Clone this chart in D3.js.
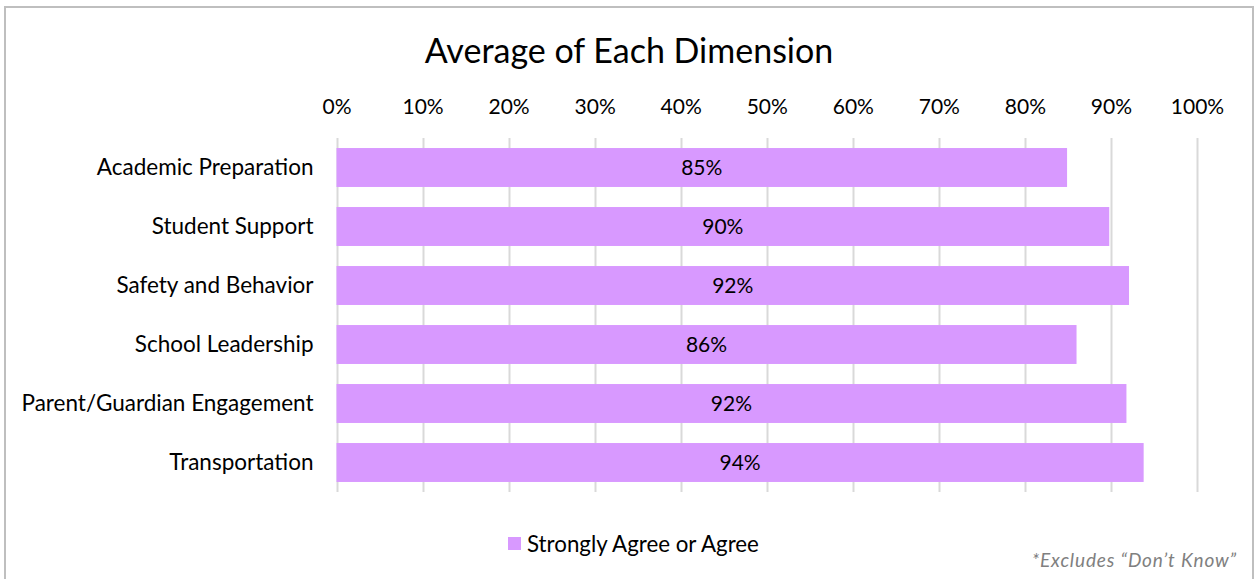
<!DOCTYPE html>
<html>
<head>
<meta charset="utf-8">
<script src="https://cdn.jsdelivr.net/npm/d3@7"></script>
<style>
  html, body { margin: 0; padding: 0; background: #fff; }
  svg { display: block; font-family: Lato, "Open Sans", sans-serif; }
</style>
</head>
<body>
<svg id="chart" width="1259" height="579"></svg>
<script>
const categories = ["Academic Preparation", "Student Support", "Safety and Behavior", "School Leadership", "Parent/Guardian Engagement", "Transportation"];
const values = [0.849, 0.898, 0.921, 0.860, 0.918, 0.938];
const valueLabels = ["85%", "90%", "92%", "86%", "92%", "94%"];
const tickValues = [0, 0.1, 0.2, 0.3, 0.4, 0.5, 0.6, 0.7, 0.8, 0.9, 1.0];
const seriesName = "Strongly Agree or Agree";
const title = "Average of Each Dimension";
const footnote = "*Excludes \u201CDon\u2019t Know\u201D";

const svg = d3.select("#chart");
const W = 1259, H = 579;
const barColor = "#D899FF";

// frame
svg.append("path")
  .attr("d", `M5,${H+2} V7 H1253 V${H+2}`)
  .attr("fill", "none").attr("stroke", "#BFBFBF").attr("stroke-width", 2);

const x = d3.scaleLinear().domain([0, 1]).range([336.5, 1197]);
const y = d3.scaleBand().domain(categories).range([138, 492]).paddingInner(0.34).paddingOuter(0.17);

// title
svg.append("text").attr("x", 629).attr("y", 63).attr("text-anchor", "middle")
  .attr("font-size", 34).attr("fill", "#000").text(title);

// gridlines
svg.append("g").selectAll("line").data(tickValues).join("line")
  .attr("x1", d => Math.round(x(d)) + 0.5).attr("x2", d => Math.round(x(d)) + 0.5)
  .attr("y1", 138).attr("y2", 492)
  .attr("stroke", "#D9D9D9").attr("stroke-width", 2);

// top axis
const axis = d3.axisTop(x).tickValues(tickValues).tickFormat(d3.format(".0%")).tickSize(0).tickPadding(0);
const ga = svg.append("g").attr("transform", "translate(0,114)").call(axis);
ga.select(".domain").remove();
ga.selectAll("text").attr("font-size", 21).attr("fill", "#000").attr("font-family", "Lato, sans-serif");

// category axis
const ay = d3.axisLeft(y).tickSize(0).tickPadding(23);
const gy = svg.append("g").attr("transform", "translate(336.5,0)").call(ay);
gy.select(".domain").remove();
gy.selectAll("text").attr("font-size", 22.5).attr("fill", "#000").attr("font-family", "Lato, sans-serif").attr("dy", "0.35em");

// bars
svg.append("g").selectAll("rect").data(categories).join("rect")
  .attr("x", x(0)).attr("y", d => y(d))
  .attr("width", (d, i) => x(values[i]) - x(0))
  .attr("height", y.bandwidth())
  .attr("fill", barColor);

// value labels
svg.append("g").selectAll("text").data(categories).join("text")
  .attr("x", (d, i) => (x(0) + x(values[i])) / 2)
  .attr("y", d => y(d) + y.bandwidth() / 2)
  .attr("dy", "0.35em").attr("text-anchor", "middle")
  .attr("font-size", 21).attr("fill", "#000")
  .text((d, i) => valueLabels[i]);

// legend
svg.append("rect").attr("x", 508).attr("y", 537).attr("width", 13).attr("height", 13).attr("fill", barColor);
svg.append("text").attr("x", 527).attr("y", 544).attr("dy", "0.35em")
  .attr("font-size", 22.3).attr("fill", "#000").text(seriesName);

// footnote
svg.append("text").attr("x", 1237).attr("y", 560).attr("dy", "0.35em").attr("text-anchor", "end")
  .attr("font-size", 19).attr("font-style", "italic").attr("letter-spacing", 0.85)
  .attr("fill", "#808080").text(footnote);
</script>
</body>
</html>
